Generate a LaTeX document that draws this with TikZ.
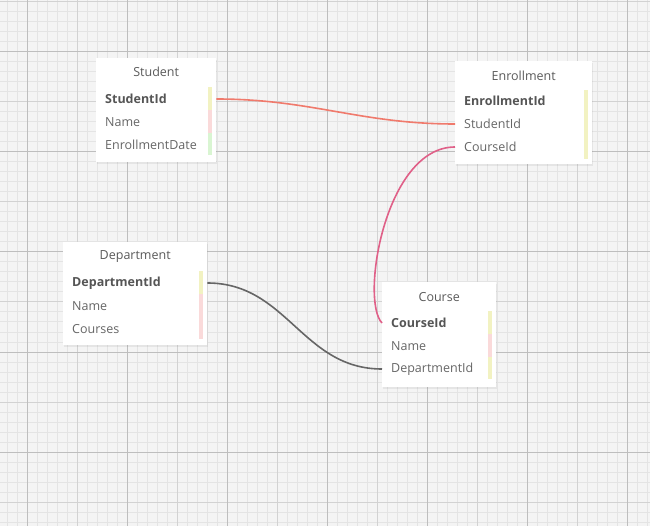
\documentclass[tikz,border=0pt]{standalone}
\usepackage{fontspec}
\setmainfont{Open Sans}
\usetikzlibrary{positioning,shadows}

\definecolor{gridbg}{HTML}{F4F4F4}
\definecolor{gridminor}{HTML}{E4E4E4}
\definecolor{gridmid}{HTML}{D2D2D2}
\definecolor{gridmajor}{HTML}{BEBEBE}
\definecolor{titlegray}{HTML}{5A5A5A}
\definecolor{rowgray}{HTML}{666666}
\definecolor{keygray}{HTML}{555555}
\definecolor{baryellow}{HTML}{F2F2C2}
\definecolor{barpink}{HTML}{FADADA}
\definecolor{bargreen}{HTML}{D9F5D2}
\definecolor{linksalmon}{HTML}{F07A6C}
\definecolor{linkrose}{HTML}{E06088}
\definecolor{linkgray}{HTML}{666666}

\tikzset{
  tbl/.style={fill=white,inner sep=0pt,anchor=north west,
    drop shadow={opacity=0.12,shadow xshift=1pt,shadow yshift=-1.5pt}},
  tbltitle/.style={inner sep=0pt,text=titlegray,font=\fontsize{12.5}{14}\selectfont},
  row/.style={anchor=west,inner xsep=9pt,inner ysep=0pt,align=left,
    text=rowgray,font=\fontsize{12.5}{14}\selectfont},
  keyrow/.style={row,text=keygray,font=\fontsize{12.5}{14}\selectfont\bfseries},
  link/.style={line width=1.6pt},
}

\begin{document}
\begin{tikzpicture}[x=1pt,y=-1pt]
  \useasboundingbox (0,0) rectangle (650,526);
  \fill[gridbg] (0,0) rectangle (650,526); %背景
  \foreach \gx in {7,17,...,647} \draw[gridminor,line width=1pt] (\gx,0)--(\gx,526);
  \foreach \gy in {2,12,...,522} \draw[gridminor,line width=1pt] (0,\gy)--(650,\gy);
  \foreach \gx in {27,77,...,627} \draw[gridmid,line width=1pt] (\gx,0)--(\gx,526);
  \foreach \gy in {2,52,...,502} \draw[gridmid,line width=1pt] (0,\gy)--(650,\gy);
  \foreach \gx in {27,127,...,627} \draw[gridmajor,line width=1pt] (\gx,0)--(\gx,526);
  \foreach \gy in {52,152,...,452} \draw[gridmajor,line width=1pt] (0,\gy)--(650,\gy);

  % Student
  \node[tbl,minimum width=120pt,minimum height=104pt] (student) at (96,58) {};
  \node[tbltitle] (student-title) at ([yshift=-14pt]student.north) {Student};
  \node[keyrow,text width=102pt] (student-id) at ([yshift=-41pt]student.north west) {StudentId};
  \node[row,text width=102pt] (student-name) at ([yshift=-23pt]student-id.west) {Name};
  \node[row,text width=102pt] (student-date) at ([yshift=-23pt]student-name.west) {EnrollmentDate};
  \fill[baryellow] ([xshift=-8pt,yshift=-29pt]student.north east) rectangle ++(4,23);
  \fill[barpink] ([xshift=-8pt,yshift=-52pt]student.north east) rectangle ++(4,23);
  \fill[bargreen] ([xshift=-8pt,yshift=-75pt]student.north east) rectangle ++(4,22);

  % Enrollment
  \node[tbl,minimum width=137pt,minimum height=103pt] (enroll) at (455,61) {};
  \node[tbltitle] (enroll-title) at ([yshift=-15pt]enroll.north) {Enrollment};
  \node[keyrow,text width=119pt] (enroll-id) at ([yshift=-40pt]enroll.north west) {EnrollmentId};
  \node[row,text width=119pt] (enroll-student) at ([yshift=-23pt]enroll-id.west) {StudentId};
  \node[row,text width=119pt] (enroll-course) at ([yshift=-23pt]enroll-student.west) {CourseId};
  \fill[baryellow] ([xshift=-8pt,yshift=-29pt]enroll.north east) rectangle ++(4,69);

  % Department
  \node[tbl,minimum width=144pt,minimum height=103pt] (dept) at (63,242) {};
  \node[tbltitle] (dept-title) at ([yshift=-15pt]dept.north) {Department};
  \node[keyrow,text width=126pt] (dept-id) at ([yshift=-41pt]dept.north west) {DepartmentId};
  \node[row,text width=126pt] (dept-name) at ([yshift=-23pt]dept-id.west) {Name};
  \node[row,text width=126pt] (dept-courses) at ([yshift=-23pt]dept-name.west) {Courses};
  \fill[baryellow] ([xshift=-8pt,yshift=-29pt]dept.north east) rectangle ++(4,23);
  \fill[barpink] ([xshift=-8pt,yshift=-52pt]dept.north east) rectangle ++(4,45);

  % Course
  \node[tbl,minimum width=114pt,minimum height=105pt] (course) at (382,282) {};
  \node[tbltitle] (course-title) at ([yshift=-15pt]course.north) {Course};
  \node[keyrow,text width=96pt] (course-id) at ([yshift=-41pt]course.north west) {CourseId};
  \node[row,text width=96pt] (course-name) at ([yshift=-23pt]course-id.west) {Name};
  \node[row,text width=96pt] (course-dept) at ([yshift=-23pt]course-name.west) {DepartmentId};
  \fill[baryellow] ([xshift=-8pt,yshift=-29pt]course.north east) rectangle ++(4,23);
  \fill[barpink] ([xshift=-8pt,yshift=-52pt]course.north east) rectangle ++(4,23);
  \fill[baryellow] ([xshift=-8pt,yshift=-75pt]course.north east) rectangle ++(4,22);

  % リンク
  \draw[link,linksalmon] (student-id.east) .. controls +(95,0) and +(-95,0) .. (enroll-student.west);
  \draw[link,linkrose] (enroll-course.west) .. controls +(-70,0) and +(-22,-23) .. (course-id.west);
  \draw[link,linkgray] (dept-id.east) .. controls +(80,0) and +(-80,0) .. (course-dept.west);
\end{tikzpicture}
\end{document}
